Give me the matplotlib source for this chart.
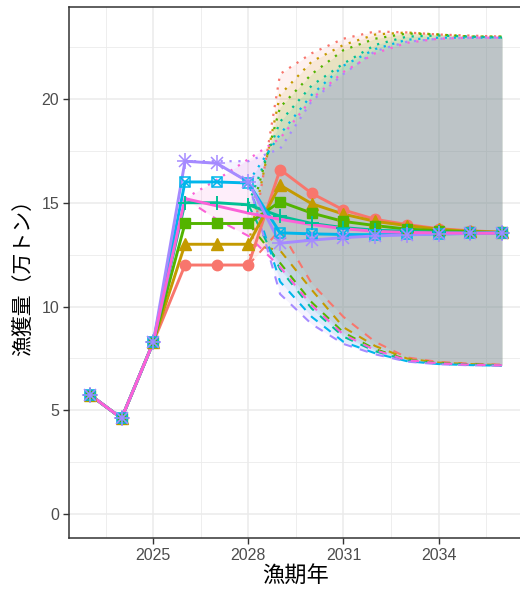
import matplotlib
matplotlib.use("Agg")
import matplotlib.pyplot as plt
from matplotlib.ticker import MultipleLocator, FixedLocator

# 漁期年と実績（全シナリオ共通）
years = list(range(2023, 2037))
past_years = [2023, 2024, 2025]
past_catch = [5.75, 4.62, 8.28]

# 将来予測の中央値 2026-2036
future_years = list(range(2026, 2037))
med_12 = [12.0, 12.0, 12.0, 16.6, 15.45, 14.65, 14.2, 13.95, 13.75, 13.65, 13.58]
med_13 = [13.0, 13.0, 13.0, 15.85, 14.95, 14.45, 14.1, 13.9, 13.72, 13.62, 13.57]
med_14 = [14.0, 14.0, 14.0, 15.05, 14.5, 14.1, 13.9, 13.73, 13.65, 13.6, 13.57]
med_15 = [15.0, 15.0, 14.9, 14.35, 14.0, 13.8, 13.68, 13.62, 13.58, 13.56, 13.55]
med_16 = [16.0, 16.0, 15.95, 13.55, 13.5, 13.47, 13.46, 13.48, 13.5, 13.52, 13.55]
med_17 = [17.0, 16.9, 16.0, 13.05, 13.2, 13.32, 13.4, 13.45, 13.5, 13.52, 13.55]
med_hcr = [15.2, 14.85, 14.5, 14.2, 13.95, 13.75, 13.62, 13.57, 13.55, 13.54, 13.53]

# 90%区間 上限・下限
band_years_late = list(range(2028, 2037))
band_years_early = list(range(2026, 2037))
up_12 = [12.0, 21.2, 22.2, 22.9, 23.25, 23.2, 23.1, 23.05, 23.0]
up_13 = [13.0, 20.2, 21.8, 22.6, 23.1, 23.2, 23.1, 23.0, 23.0]
up_14 = [14.0, 19.6, 21.2, 22.35, 22.9, 23.15, 23.1, 23.0, 23.0]
up_15 = [14.95, 18.9, 20.65, 21.7, 22.6, 23.0, 23.05, 23.0, 22.95]
up_16 = [16.0, 18.3, 20.2, 21.6, 22.4, 22.85, 22.95, 22.95, 22.95]
up_17 = [17.0, 17.0, 17.0, 17.6, 19.9, 21.2, 22.3, 22.75, 22.9, 22.95, 22.95]
up_hcr = [15.2, 16.1, 17.1, 18.1, 20.0, 21.3, 22.2, 22.7, 22.9, 22.95, 22.95]

lo_12 = [12.0, 13.7, 11.1, 9.5, 8.3, 7.55, 7.33, 7.25, 7.2]
lo_13 = [13.0, 12.7, 10.8, 9.0, 8.1, 7.5, 7.3, 7.23, 7.18]
lo_14 = [14.0, 12.1, 10.2, 8.75, 7.95, 7.45, 7.28, 7.22, 7.17]
lo_15 = [14.9, 11.8, 9.9, 8.55, 7.85, 7.4, 7.25, 7.2, 7.16]
lo_16 = [15.95, 11.2, 9.5, 8.3, 7.75, 7.37, 7.23, 7.18, 7.15]
lo_17 = [17.0, 16.9, 16.0, 10.6, 9.15, 8.2, 7.7, 7.35, 7.22, 7.17, 7.15]
lo_hcr = [15.2, 14.2, 13.4, 11.9, 10.05, 8.65, 7.9, 7.42, 7.27, 7.2, 7.17]

colors = ["#F8766D", "#C49A00", "#53B400", "#00C094", "#00B6EB", "#A58AFF", "#FB61D7"]
medians = [med_12, med_13, med_14, med_15, med_16, med_17, med_hcr]
uppers = [up_12, up_13, up_14, up_15, up_16, up_17, up_hcr]
lowers = [lo_12, lo_13, lo_14, lo_15, lo_16, lo_17, lo_hcr]
band_x = [band_years_late] * 5 + [band_years_early] * 2

# ggplot風の点の形（最後のシナリオは形なし）
marker_sets = [
    [dict(marker="o", ms=7.5)],
    [dict(marker="^", ms=8.5)],
    [dict(marker="s", ms=7)],
    [dict(marker="+", ms=10, mew=1.4)],
    [dict(marker="s", ms=7.5, mfc="none", mew=1.1), dict(marker="x", ms=6.5, mew=1.1)],
    [dict(marker="+", ms=11, mew=1.1), dict(marker="x", ms=8, mew=1.1)],
    [],
]

plt.rcParams["font.family"] = ["Liberation Sans", "Noto Sans CJK JP"]

fig = plt.figure(figsize=(5.2, 5.95), dpi=100)
ax = fig.add_axes([69.3 / 520, (595 - 538.3) / 595, 453.3 / 520, 531.6 / 595])

for bx, up, lo, c in zip(band_x, uppers, lowers, colors):
    ax.fill_between(bx, lo, up, color=c, alpha=0.1, lw=0, zorder=2)

for bx, up, lo, c in zip(band_x, uppers, lowers, colors):
    ax.plot(bx, up, color=c, lw=1.6, ls=(0, (1, 3)), zorder=3)
    ax.plot(bx, lo, color=c, lw=1.5, ls=(0, (4, 4)), zorder=3)

for med, c in zip(medians, colors):
    ax.plot(past_years + future_years, past_catch + med, color=c, lw=2.1, zorder=4)

for med, c, mks in zip(medians, colors, marker_sets):
    for mk in mks:
        ax.plot(past_years + future_years, past_catch + med, ls="none",
                color=c, mec=c, zorder=5, **mk)

ax.set_xlim(2022.35, 2036.65)
ax.set_ylim(-1.16, 24.44)
ax.xaxis.set_major_locator(FixedLocator([2025, 2028, 2031, 2034]))
ax.xaxis.set_minor_locator(FixedLocator([2023.5, 2026.5, 2029.5, 2032.5, 2035.5]))
ax.yaxis.set_major_locator(MultipleLocator(5))
ax.yaxis.set_minor_locator(FixedLocator([2.5, 7.5, 12.5, 17.5, 22.5]))
ax.grid(which="major", color="#EBEBEB", lw=1.1, zorder=0)
ax.grid(which="minor", color="#EBEBEB", lw=0.6, zorder=0)
ax.set_axisbelow(True)

for s in ax.spines.values():
    s.set_color("#333333")
    s.set_linewidth(1.1)
ax.tick_params(which="major", length=4.3, width=1.0, color="#333333",
               labelcolor="#4D4D4D", labelsize=11.5, pad=3)
ax.tick_params(which="minor", length=0)

ax.set_xlabel("漁期年", fontsize=16, color="black", labelpad=2)
ax.set_ylabel("漁獲量（万トン）", fontsize=15, color="black", labelpad=6)

fig.savefig("out.png", dpi=100)
